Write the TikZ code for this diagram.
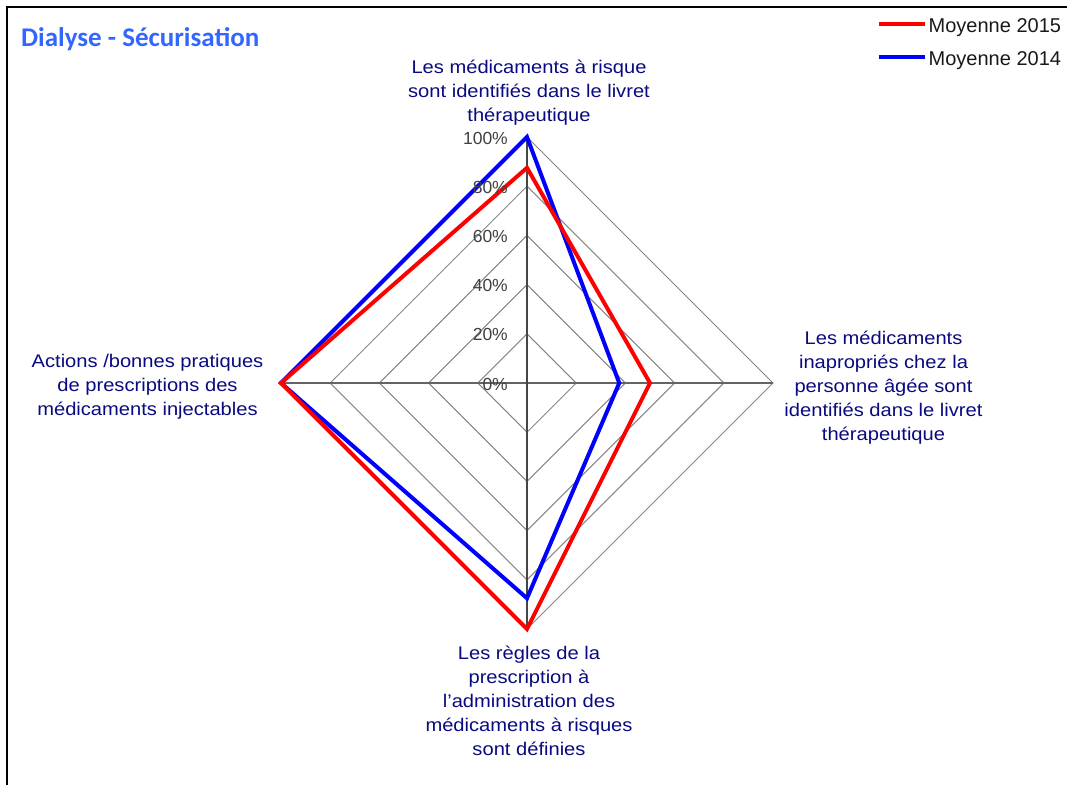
\documentclass[tikz,border=0pt]{standalone}
\usepackage{fontspec}
\setmainfont{Liberation Sans}
\newfontfamily\labfont[FakeStretch=1.1]{Liberation Sans}
\newfontfamily\titlefont{Carlito}

\definecolor{gridgray}{RGB}{134,134,134}
\definecolor{spokegray}{RGB}{100,100,100}
\definecolor{axisdark}{RGB}{70,70,70}
\definecolor{tickgray}{RGB}{64,64,64}
\definecolor{catnavy}{RGB}{10,10,128}
\definecolor{titleblue}{RGB}{51,102,255}

\tikzset{
  gridline/.style={draw=gridgray, line width=1pt},
  spokeh/.style={draw=spokegray, line width=1.4pt},
  spokev/.style={draw=axisdark, line width=1.4pt},
  serA/.style={draw=red, line width=4pt, line join=miter},
  serB/.style={draw=blue, line width=4pt, line join=miter},
  ticklabel/.style={anchor=base east, inner sep=0pt, text=tickgray,
    font=\fontsize{17.5}{21}\selectfont},
  catlabel/.style={anchor=north, inner sep=0pt, align=center, text=catnavy,
    font=\labfont\fontsize{18.3}{24}\selectfont},
  legendtext/.style={anchor=base west, inner sep=0pt, text=black!90,
    font=\fontsize{20}{24}\selectfont},
}

\begin{document}
\begin{tikzpicture}[x=1pt,y=-1pt]
\useasboundingbox (0,0) rectangle (1067,784);
\begin{scope}
\clip (0,0) rectangle (1067,784);
\draw[black, line width=1.3pt] (7,7) rectangle (1090,800);
\end{scope}

% chart centre and radius
\def\cx{527}\def\cy{383}\def\rr{246}
\coordinate (O) at (\cx,\cy);
\coordinate (T) at (\cx,\cy-\rr);
\coordinate (E) at (\cx+\rr,\cy);
\coordinate (S) at (\cx,\cy+\rr);
\coordinate (W) at (\cx-\rr,\cy);

% grid diamonds at 20 % steps
\foreach \k in {1,...,5}{
  \pgfmathsetmacro{\d}{\k*\rr/5}
  \draw[gridline] (\cx,\cy-\d) -- (\cx+\d,\cy) -- (\cx,\cy+\d) -- (\cx-\d,\cy) -- cycle;
}
% spokes
\draw[spokeh] (W) -- (E);
\draw[spokev] (T) -- (S);

% series Moyenne 2014
\coordinate (b1) at (\cx,\cy-\rr);
\coordinate (b2) at (\cx+0.375*\rr,\cy);
\coordinate (b3) at (\cx,\cy+0.875*\rr);
\coordinate (b4) at (\cx-\rr,\cy);
\draw[serB] (b1) -- (b2) -- (b3) -- (b4) -- cycle;

% series Moyenne 2015
\coordinate (a1) at (\cx,\cy-0.875*\rr);
\coordinate (a2) at (\cx+0.5*\rr,\cy);
\coordinate (a3) at (\cx,\cy+\rr);
\coordinate (a4) at (\cx-\rr,\cy);
\draw[serA] (a1) -- (a2) -- (a3) -- (a4) -- cycle;

% radial axis labels
\foreach \k/\lab in {0/0\%,1/20\%,2/40\%,3/60\%,4/80\%,5/100\%}{
  \node[ticklabel] (tick\k) at (508,{\cy-\k*\rr/5+7}) {\lab};
}

% category labels
\node[catlabel] (catT) at (529,56) {\rule{0pt}{17pt}Les médicaments à risque\\sont identifiés dans le livret\\thérapeutique};
\node[catlabel] (catE) at (883.5,327) {\rule{0pt}{17pt}Les médicaments\\inapropriés chez la\\personne âgée sont\\identifiés dans le livret\\thérapeutique};
\node[catlabel] (catS) at (529,642) {\rule{0pt}{17pt}Les règles de la\\prescription à\\l’administration des\\médicaments à risques\\sont définies};
\node[catlabel] (catW) at (147.5,350) {\rule{0pt}{17pt}Actions /bonnes pratiques\\de prescriptions des\\médicaments injectables};

% title
\node[anchor=base west, inner sep=0pt, text=titleblue,
  font=\titlefont\bfseries\fontsize{27}{32}\selectfont] (title) at (21,46) {Dialyse - Sécurisation};

% legend
\coordinate (la1) at (879,24);
\coordinate (la2) at (925,24);
\coordinate (lb1) at (879,57);
\coordinate (lb2) at (925,57);
\draw[red, line width=4pt] (la1) -- (la2);
\draw[blue, line width=4pt] (lb1) -- (lb2);
\node[legendtext] (legA) at (928.5,33) {Moyenne 2015};
\node[legendtext] (legB) at (928.5,66) {Moyenne 2014};
\end{tikzpicture}
\end{document}
